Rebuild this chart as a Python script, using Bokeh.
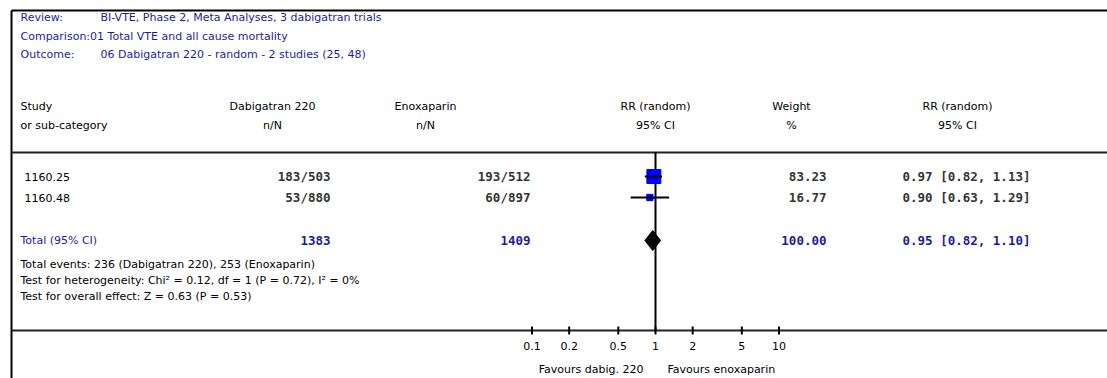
import math
from bokeh.plotting import figure
from bokeh.models import Range1d, LogScale
from bokeh.core.properties import value
from bokeh.embed import file_html
from bokeh.resources import INLINE

# ---------------- data ----------------
review_text = "BI-VTE, Phase 2, Meta Analyses, 3 dabigatran trials"
comparison_text = "Comparison:01 Total VTE and all cause mortality"
outcome_text = "06 Dabigatran 220 - random - 2 studies (25, 48)"

col_headers_1 = ["Study", "Dabigatran 220", "Enoxaparin", "RR (random)", "Weight", "RR (random)"]
col_headers_2 = ["or sub-category", "n/N", "n/N", "95% CI", "%", "95% CI"]

studies = ["1160.25", "1160.48"]
treat_events = [183, 53]
treat_total = [503, 880]
ctrl_events = [193, 60]
ctrl_total = [512, 897]
weights = [83.23, 16.77]
rr = [0.97, 0.90]
rr_low = [0.82, 0.63]
rr_high = [1.13, 1.29]

total_label = "Total (95% CI)"
total_treat = 1383
total_ctrl = 1409
total_weight = 100.00
total_rr = 0.95
total_low = 0.82
total_high = 1.10

footer_lines = [
    "Total events: 236 (Dabigatran 220), 253 (Enoxaparin)",
    "Test for heterogeneity: Chi\u00b2 = 0.12, df = 1 (P = 0.72), I\u00b2 = 0%",
    "Test for overall effect: Z = 0.63 (P = 0.53)",
]

tick_values = [0.1, 0.2, 0.5, 1, 2, 5, 10]
tick_labels = ["0.1", "0.2", "0.5", "1", "2", "5", "10"]
favours_left = "Favours dabig. 220"
favours_right = "Favours enoxaparin"

# ---------------- layout ----------------
W, H = 1107, 378
X_ONE = 655.0        # pixel position of RR = 1
PX_PER_DECADE = 123.5

BLUE = "#1c1ca0"
NUMC = "#333333"
SANS = value("DejaVu Sans")
MONO = value("DejaVu Sans Mono")
FS = "11px"
NFS = "12.5px"

p = figure(width=W, height=H, x_range=Range1d(0, W), y_range=Range1d(H, 0),
           output_backend="svg", toolbar_location=None,
           x_axis_location=None, y_axis_location=None, min_border=0)
p.grid.visible = False
p.outline_line_color = None
p.background_fill_color = "white"
p.border_fill_color = "white"

p.extra_x_ranges = {"rr": Range1d(10 ** (-X_ONE / PX_PER_DECADE),
                                  10 ** ((W - X_ONE) / PX_PER_DECADE))}
p.extra_x_scales = {"rr": LogScale()}

# frame lines
Y_TOP, X_LEFT = 10, 11
Y_HDR, Y_AXIS = 152, 330
p.segment(x0=[X_LEFT], y0=[Y_TOP], x1=[W], y1=[Y_TOP], line_color="black", line_width=2)
p.segment(x0=[X_LEFT], y0=[Y_TOP], x1=[X_LEFT], y1=[H], line_color="black", line_width=2)
p.segment(x0=[X_LEFT], y0=[Y_HDR], x1=[W], y1=[Y_HDR], line_color="#222222", line_width=2)
p.segment(x0=[X_LEFT], y0=[Y_AXIS], x1=[W], y1=[Y_AXIS], line_color="#222222", line_width=2)

def txt(x, y, t, font=SANS, size=FS, color="black", align="left", style="normal", **kw):
    p.text(x=[x], y=[y], text=[t], text_font=font, text_font_size=size,
           text_color=color, text_align=align, text_baseline="middle",
           text_font_style=style, **kw)

# title block
LX = 20
txt(LX, 17, "Review:", color=BLUE)
txt(100, 17, review_text, color=BLUE)
txt(LX, 36, comparison_text, color=BLUE)
txt(LX, 54, "Outcome:", color=BLUE)
txt(100, 54, outcome_text, color=BLUE)

# column headers
Y_H1, Y_H2 = 106, 125
hdr_x = [LX, 272, 425, None, 791, 957]
hdr_align = ["left", "center", "center", "center", "center", "center"]
for i in range(6):
    if hdr_x[i] is None:
        for yy, lab in ((Y_H1, col_headers_1[i]), (Y_H2, col_headers_2[i])):
            p.text(x=[1], y=[yy], text=[lab], text_font=SANS, text_font_size=FS,
                   text_align="center", text_baseline="middle", x_range_name="rr")
    else:
        txt(hdr_x[i], Y_H1, col_headers_1[i], align=hdr_align[i])
        txt(hdr_x[i], Y_H2, col_headers_2[i], align=hdr_align[i])

# study rows
row_y = [176, 197]
X_C1, X_C2, X_WT, X_CI = 330, 530, 826, 966
for i, s in enumerate(studies):
    y = row_y[i]
    txt(LX + 4, y, s)
    txt(X_C1, y, f"{treat_events[i]}/{treat_total[i]}", font=MONO, size=NFS, align="right", style="bold", color=NUMC)
    txt(X_C2, y, f"{ctrl_events[i]}/{ctrl_total[i]}", font=MONO, size=NFS, align="right", style="bold", color=NUMC)
    txt(X_WT, y, f"{weights[i]:.2f}", font=MONO, size=NFS, align="right", style="bold", color=NUMC)
    txt(X_CI, y, f"{rr[i]:.2f} [{rr_low[i]:.2f}, {rr_high[i]:.2f}]", font=MONO, size=NFS,
        align="center", style="bold", color=NUMC)

# total row
Y_TOT = 240
txt(LX, Y_TOT, total_label, color=BLUE)
txt(X_C1, Y_TOT, f"{total_treat}", font=MONO, size=NFS, align="right", style="bold", color=BLUE)
txt(X_C2, Y_TOT, f"{total_ctrl}", font=MONO, size=NFS, align="right", style="bold", color=BLUE)
txt(X_WT, Y_TOT, f"{total_weight:.2f}", font=MONO, size=NFS, align="right", style="bold", color=BLUE)
txt(X_CI, Y_TOT, f"{total_rr:.2f} [{total_low:.2f}, {total_high:.2f}]", font=MONO, size=NFS,
    align="center", style="bold", color=BLUE)

for j, line in enumerate(footer_lines):
    txt(LX, 264 + 16 * j, line)

# forest plot marks (log scale)
p.segment(x0=[1], x1=[1], y0=[Y_HDR], y1=[Y_AXIS], line_color="black", line_width=2, x_range_name="rr")
max_w = max(weights)
sizes = [14 * math.sqrt(w / max_w) for w in weights]
p.scatter(x=rr, y=row_y, size=sizes, marker="square", fill_color="#0000ff",
          line_color="#0000ff", x_range_name="rr")
p.segment(x0=rr_low, x1=rr_high, y0=row_y, y1=row_y, line_color="black", line_width=2, x_range_name="rr")

DH = 10
p.patch(x=[total_low, total_rr, total_high, total_rr],
        y=[Y_TOT, Y_TOT - DH, Y_TOT, Y_TOT + DH],
        fill_color="black", line_color="black", x_range_name="rr")

# axis ticks & labels
p.segment(x0=tick_values, x1=tick_values, y0=[Y_AXIS - 4] * len(tick_values),
          y1=[Y_AXIS + 4] * len(tick_values), line_color="black", line_width=2, x_range_name="rr")
p.text(x=tick_values, y=[Y_AXIS + 15] * len(tick_values), text=tick_labels, text_font=SANS,
       text_font_size=FS, text_align="center", text_baseline="middle", x_range_name="rr")

Y_FAV = 369
p.text(x=[1], y=[Y_FAV], text=[favours_left], text_font=SANS, text_font_size=FS,
       text_align="right", text_baseline="middle", x_offset=-12, x_range_name="rr")
p.text(x=[1], y=[Y_FAV], text=[favours_right], text_font=SANS, text_font_size=FS,
       text_align="left", text_baseline="middle", x_offset=12, x_range_name="rr")

open("out.html", "w").write(file_html(p, INLINE))
